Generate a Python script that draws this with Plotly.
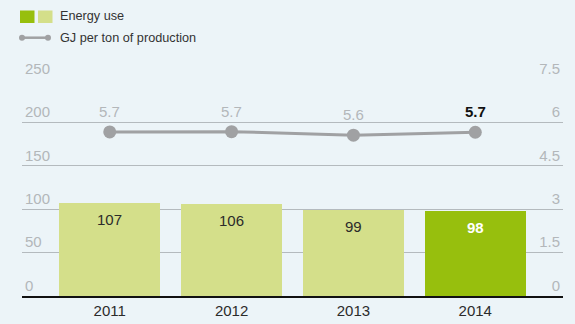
import plotly.graph_objects as go

years = ["2011", "2012", "2013", "2014"]
energy_use = [107, 106, 99, 98]
gj_per_ton = [5.67, 5.68, 5.56, 5.66]
left_ticks = [0, 50, 100, 150, 200, 250]
right_ticks = [0, 1.5, 3, 4.5, 6, 7.5]

BG = "#ecf4f8"
DARK = "#97bf0d"
LIGHT = "#d4df8a"
GRAY_LINE = "#a0a1a3"
TICK_GRAY = "#b3b7ba"
FONT = "Liberation Sans, Arial, sans-serif"

W, H = 575, 324
L, R, T, B = 22, 12, 79, 28
pw, ph = W - L - R, H - T - B


def px(x):
    return (x - L) / pw


def py(y):
    return (H - B - y) / ph


bar_colors = [LIGHT] * (len(years) - 1) + [DARK]

fig = go.Figure()
fig.add_trace(go.Bar(
    x=years, y=energy_use, marker=dict(color=bar_colors, line=dict(width=0)),
    width=0.83, showlegend=False, hoverinfo="skip",
))
fig.add_trace(go.Scatter(
    x=years, y=gj_per_ton, yaxis="y2", mode="lines+markers",
    line=dict(color=GRAY_LINE, width=3),
    marker=dict(color=GRAY_LINE, size=13),
    showlegend=False, hoverinfo="skip",
))

annotations = []
for i, (yr, v) in enumerate(zip(years, energy_use)):
    last = i == len(years) - 1
    annotations.append(dict(
        x=i, y=v, xref="x", yref="y", text=f"<b>{v}</b>" if last else str(v),
        showarrow=False, yanchor="top", yshift=-6,
        font=dict(family=FONT, size=15, color="white" if last else "#2b2b2b"),
    ))
for i, (yr, v) in enumerate(zip(years, gj_per_ton)):
    last = i == len(years) - 1
    annotations.append(dict(
        x=i, y=v, xref="x", yref="y2", text=f"<b>{v:.1f}</b>" if last else f"{v:.1f}",
        showarrow=False, yanchor="bottom", yshift=10,
        font=dict(family=FONT, size=15, color="#111111" if last else TICK_GRAY),
    ))

# legend (manual)
annotations.append(dict(x=px(58), y=py(16), xref="paper", yref="paper", xanchor="left",
                        yanchor="middle", showarrow=False, text="Energy use",
                        font=dict(family=FONT, size=12.7, color="#333333")))
annotations.append(dict(x=px(58), y=py(37.5), xref="paper", yref="paper", xanchor="left",
                        yanchor="middle", showarrow=False, text="GJ per ton of production",
                        font=dict(family=FONT, size=12.7, color="#333333")))

shapes = [
    dict(type="rect", xref="paper", yref="paper", x0=px(20), x1=px(34.5), y0=py(23), y1=py(10.5),
         fillcolor=DARK, line=dict(width=0)),
    dict(type="rect", xref="paper", yref="paper", x0=px(38), x1=px(52.5), y0=py(23), y1=py(10.5),
         fillcolor=LIGHT, line=dict(width=0)),
    dict(type="line", xref="paper", yref="paper", x0=px(22), x1=px(48), y0=py(37.7), y1=py(37.7),
         line=dict(color=GRAY_LINE, width=2.5)),
    dict(type="circle", xref="paper", yref="paper", x0=px(19), x1=px(25), y0=py(40.7), y1=py(34.7),
         fillcolor=GRAY_LINE, line=dict(width=0)),
    dict(type="circle", xref="paper", yref="paper", x0=px(45), x1=px(51), y0=py(40.7), y1=py(34.7),
         fillcolor=GRAY_LINE, line=dict(width=0)),
]

fig.update_layout(
    width=W, height=H,
    margin=dict(l=L, r=R, t=T, b=B),
    paper_bgcolor=BG, plot_bgcolor=BG,
    font=dict(family=FONT),
    xaxis=dict(type="category", range=[-0.72, 3.72], showline=True, linecolor="#111111",
               linewidth=1.5, ticks="", showgrid=False, automargin=False,
               tickfont=dict(size=15, color="#2b2b2b"), fixedrange=True),
    yaxis=dict(range=[0, 250], tickvals=left_ticks, showgrid=True, gridcolor="#b4babe",
               gridwidth=1, zeroline=False, ticklabelposition="inside top",
               ticklabeloverflow="allow", automargin=False,
               tickfont=dict(size=15, color=TICK_GRAY), fixedrange=True),
    yaxis2=dict(range=[0, 7.5], tickvals=right_ticks, overlaying="y", side="right",
                showgrid=False, zeroline=False, ticklabelposition="inside top",
                ticklabeloverflow="allow", automargin=False,
                tickfont=dict(size=15, color=TICK_GRAY), fixedrange=True),
    annotations=annotations,
    shapes=shapes,
    bargap=0,
)

fig.write_html("out.html", config={"displayModeBar": False},
               post_script="document.body.style.margin='0';")
